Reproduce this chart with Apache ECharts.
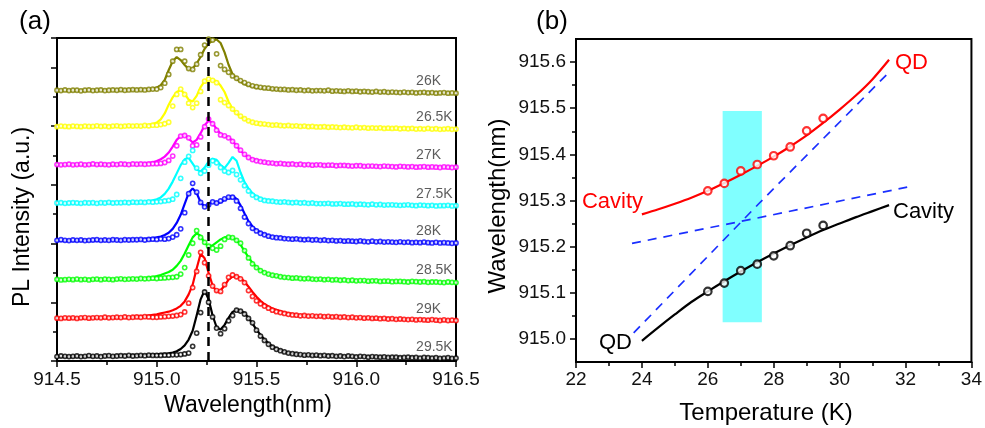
<!DOCTYPE html>
<html><head><meta charset="utf-8">
<script src="https://cdn.jsdelivr.net/npm/echarts@6/dist/echarts.min.js"></script>
<style>html,body{margin:0;padding:0;background:#fff}#c{width:985px;height:428px}</style>
</head><body><div id="c"></div>
<script>
// ---------- Panel (a): PL spectra ----------
const waveGrid = [
914.5,914.52,914.54,914.56,914.58,914.6,914.62,914.64,914.66,914.68,
914.7,914.72,914.74,914.76,914.78,914.8,914.82,914.84,914.86,914.88,
914.9,914.92,914.94,914.96,914.98,915,915.02,915.04,915.06,915.08,
915.1,915.12,915.14,915.16,915.18,915.2,915.22,915.24,915.26,915.28,
915.3,915.32,915.34,915.36,915.38,915.4,915.42,915.44,915.46,915.48,
915.5,915.52,915.54,915.56,915.58,915.6,915.62,915.64,915.66,915.68,
915.7,915.72,915.74,915.76,915.78,915.8,915.82,915.84,915.86,915.88,
915.9,915.92,915.94,915.96,915.98,916,916.02,916.04,916.06,916.08,
916.1,916.12,916.14,916.16,916.18,916.2,916.22,916.24,916.26,916.28,
916.3,916.32,916.34,916.36,916.38,916.4,916.42,916.44,916.46,916.48,
916.5];
const tempLabels = ['26K','26.5K','27K','27.5K','28K','28.5K','29K','29.5K'];
const traceOffsets = [9.21,7.98,6.68,5.37,4.10,2.76,1.45,0.15];
const markerWavelength = 915.26;

const fit26K = [
0,0,0,0,0,0,0,0,0.01,0.01,
0.01,0.01,0.01,0.01,0.01,0.01,0.01,0.02,0.02,0.02,
0.02,0.02,0.03,0.05,0.07,0.10,0.18,0.36,0.70,1.00,
1.14,1.04,0.87,0.73,0.75,0.92,1.15,1.42,1.60,1.70,
1.74,1.62,1.30,0.88,0.56,0.40,0.30,0.22,0.17,0.13,
0.10,0.08,0.07,0.06,0.05,0.04,0.03,0.03,0.02,0.02,
0.01,0.01,0.01,0.00,0.00,0.00,-0.01,-0.01,-0.01,-0.02,
-0.02,-0.02,-0.02,-0.03,-0.03,-0.03,-0.03,-0.04,-0.04,-0.04,
-0.04,-0.05,-0.05,-0.05,-0.05,-0.05,-0.06,-0.06,-0.06,-0.06,
-0.06,-0.07,-0.07,-0.07,-0.07,-0.07,-0.08,-0.08,-0.08,-0.08,
-0.08];
const circ26K = [
0.01,0.00,0.02,0.00,0.01,0.01,-0.01,0.01,0.02,0.00,
0.01,0.02,0.00,0.01,0.02,0.01,0.03,0.01,0.02,0.03,
0.02,0.03,0.02,0.04,0.05,0.05,0.10,0.25,0.55,1.00,
1.40,1.40,1.00,0.75,0.72,0.90,1.22,1.55,1.75,1.72,
1.25,0.85,0.72,0.62,0.50,0.42,0.34,0.27,0.21,0.16,
0.13,0.11,0.09,0.08,0.06,0.05,0.04,0.04,0.02,0.03,
0.01,0.02,0.00,0.01,-0.01,0.00,0.00,-0.01,0.01,-0.02,
-0.01,-0.02,-0.03,-0.01,-0.03,-0.02,-0.04,-0.03,-0.04,-0.05,
-0.03,-0.05,-0.04,-0.06,-0.05,-0.06,-0.07,-0.05,-0.07,-0.06,
-0.08,-0.07,-0.06,-0.08,-0.07,-0.09,-0.08,-0.07,-0.09,-0.08,
-0.09];
const fit26_5K = [
0,0,0,0,0,0,0,0.01,0.01,0.01,
0.01,0.01,0.01,0.01,0.01,0.02,0.02,0.02,0.02,0.02,
0.02,0.03,0.04,0.06,0.09,0.14,0.25,0.45,0.75,1.00,
1.18,1.25,1.12,0.92,0.86,1.05,1.35,1.55,1.60,1.60,
1.55,1.40,1.18,0.85,0.60,0.45,0.34,0.26,0.20,0.15,
0.12,0.10,0.08,0.07,0.06,0.05,0.04,0.04,0.03,0.03,
0.02,0.02,0.01,0.01,0.00,0.00,-0.01,-0.01,-0.01,-0.02,
-0.02,-0.02,-0.02,-0.03,-0.03,-0.03,-0.03,-0.04,-0.04,-0.04,
-0.04,-0.05,-0.05,-0.05,-0.05,-0.05,-0.06,-0.06,-0.06,-0.06,
-0.06,-0.07,-0.07,-0.07,-0.07,-0.07,-0.08,-0.08,-0.08,-0.08,
-0.08];
const circ26_5K = [
0.00,0.02,0.01,0.00,0.02,0.01,0.00,0.02,0.01,0.01,
0.03,0.01,0.02,0.00,0.02,0.03,0.01,0.02,0.03,0.02,
0.03,0.02,0.04,0.03,0.05,0.05,0.07,0.10,0.15,0.70,
1.10,1.28,1.10,0.80,0.65,0.80,1.20,1.55,1.62,1.58,
1.50,0.92,0.82,0.72,0.60,0.48,0.36,0.27,0.20,0.15,
0.12,0.10,0.09,0.07,0.05,0.06,0.04,0.03,0.04,0.02,
0.03,0.01,0.02,0.00,0.01,-0.01,-0.01,0.00,-0.02,-0.01,
-0.02,-0.03,-0.02,-0.03,-0.04,-0.02,-0.04,-0.03,-0.05,-0.04,
-0.05,-0.04,-0.06,-0.05,-0.06,-0.05,-0.07,-0.06,-0.07,-0.06,
-0.08,-0.07,-0.08,-0.06,-0.08,-0.07,-0.09,-0.08,-0.07,-0.09,
-0.08];
const fit27K = [
0,0,0,0,0,0,0,0,0.01,0.01,
0.01,0.01,0.01,0.01,0.01,0.01,0.02,0.02,0.02,0.02,
0.02,0.03,0.04,0.06,0.09,0.13,0.19,0.28,0.42,0.62,
0.85,0.98,1.02,0.90,0.76,0.85,1.08,1.35,1.50,1.42,
1.22,1.06,0.98,0.94,0.82,0.64,0.48,0.35,0.26,0.20,
0.16,0.12,0.09,0.07,0.06,0.05,0.04,0.04,0.03,0.03,
0.02,0.02,0.01,0.01,0.00,0.00,-0.01,-0.01,-0.01,-0.02,
-0.02,-0.02,-0.02,-0.03,-0.03,-0.03,-0.03,-0.04,-0.04,-0.04,
-0.04,-0.05,-0.05,-0.05,-0.05,-0.05,-0.06,-0.06,-0.06,-0.06,
-0.06,-0.07,-0.07,-0.07,-0.07,-0.07,-0.08,-0.08,-0.08,-0.08,
-0.08];
const circ27K = [
0.01,0.00,0.01,0.02,0.00,0.01,0.02,0.00,0.01,0.03,
0.01,0.02,0.01,0.00,0.02,0.01,0.03,0.02,0.01,0.03,
0.02,0.03,0.02,0.03,0.04,0.04,0.05,0.08,0.15,0.30,
0.65,0.98,1.00,0.92,0.65,0.68,0.95,1.30,1.56,1.40,
1.18,1.02,0.99,0.92,0.80,0.65,0.50,0.36,0.25,0.18,
0.14,0.11,0.09,0.07,0.06,0.04,0.05,0.03,0.02,0.03,
0.01,0.02,0.00,0.01,-0.01,0.00,0.00,-0.02,-0.01,-0.01,
-0.03,-0.02,-0.02,-0.03,-0.04,-0.03,-0.03,-0.05,-0.04,-0.04,
-0.05,-0.06,-0.04,-0.05,-0.06,-0.07,-0.05,-0.06,-0.07,-0.06,
-0.08,-0.07,-0.06,-0.08,-0.07,-0.08,-0.09,-0.07,-0.08,-0.09,
-0.08];
const fit27_5K = [
0,0,0,0,0,0,0,0.01,0.01,0.01,
0.01,0.01,0.01,0.02,0.02,0.02,0.02,0.02,0.03,0.03,
0.03,0.04,0.05,0.07,0.10,0.14,0.20,0.32,0.50,0.74,
1.02,1.30,1.50,1.55,1.35,1.15,1.08,1.22,1.42,1.52,
1.48,1.30,1.20,1.38,1.58,1.45,1.05,0.72,0.50,0.34,
0.24,0.17,0.13,0.10,0.08,0.06,0.05,0.04,0.04,0.03,
0.03,0.02,0.02,0.01,0.01,0.00,-0.01,-0.01,-0.01,-0.02,
-0.02,-0.02,-0.02,-0.03,-0.03,-0.03,-0.03,-0.04,-0.04,-0.04,
-0.04,-0.05,-0.05,-0.05,-0.05,-0.05,-0.06,-0.06,-0.06,-0.06,
-0.06,-0.07,-0.07,-0.07,-0.07,-0.07,-0.08,-0.08,-0.08,-0.08,
-0.08];
const circ27_5K = [
0.01,0.02,0.00,0.01,0.02,0.01,0.00,0.02,0.01,0.02,
0.00,0.02,0.01,0.03,0.01,0.02,0.02,0.03,0.02,0.04,
0.03,0.04,0.03,0.05,0.04,0.05,0.06,0.08,0.10,0.14,
0.30,0.85,1.40,1.60,1.80,1.20,1.02,1.10,1.30,1.45,
1.38,1.22,1.10,1.05,1.12,0.98,0.80,0.60,0.42,0.28,
0.20,0.14,0.10,0.08,0.07,0.05,0.04,0.05,0.03,0.02,
0.03,0.01,0.02,0.00,0.01,-0.01,-0.01,-0.01,0.00,-0.02,
-0.02,-0.01,-0.03,-0.03,-0.02,-0.04,-0.03,-0.04,-0.05,-0.03,
-0.05,-0.04,-0.06,-0.05,-0.05,-0.06,-0.07,-0.06,-0.05,-0.07,
-0.08,-0.06,-0.07,-0.08,-0.07,-0.09,-0.08,-0.08,-0.07,-0.09,
-0.08];
const fit28K = [
0,0,0,0,0,0,0.01,0.01,0.01,0.01,
0.01,0.01,0.02,0.02,0.02,0.02,0.02,0.03,0.03,0.03,
0.03,0.04,0.05,0.07,0.09,0.11,0.14,0.19,0.27,0.40,
0.60,0.88,1.25,1.62,1.78,1.62,1.30,1.16,1.25,1.33,
1.28,1.30,1.40,1.48,1.52,1.42,1.20,0.92,0.66,0.48,
0.36,0.28,0.22,0.17,0.14,0.12,0.10,0.09,0.08,0.07,
0.06,0.05,0.04,0.04,0.03,0.03,0.02,0.02,0.01,0.01,
0.00,0.00,-0.01,-0.01,-0.02,-0.02,-0.02,-0.03,-0.03,-0.03,
-0.04,-0.04,-0.04,-0.05,-0.05,-0.05,-0.05,-0.06,-0.06,-0.06,
-0.06,-0.07,-0.07,-0.07,-0.07,-0.07,-0.08,-0.08,-0.08,-0.08,
-0.08];
const circ28K = [
0.01,0.03,0.01,0.00,0.02,0.01,0.02,0.00,0.01,0.02,
0.03,0.01,0.02,0.01,0.03,0.02,0.01,0.03,0.02,0.03,
0.03,0.04,0.02,0.04,0.05,0.04,0.06,0.05,0.07,0.12,
0.20,0.40,0.95,1.60,1.95,1.65,1.30,1.15,1.22,1.32,
1.28,1.35,1.42,1.48,1.48,1.35,1.10,0.80,0.58,0.42,
0.33,0.25,0.20,0.15,0.12,0.10,0.09,0.07,0.06,0.05,
0.06,0.04,0.03,0.04,0.02,0.03,0.01,0.02,0.00,0.01,
-0.01,0.00,-0.02,-0.01,-0.02,-0.03,-0.01,-0.03,-0.04,-0.02,
-0.04,-0.03,-0.05,-0.04,-0.05,-0.06,-0.04,-0.06,-0.05,-0.07,
-0.06,-0.07,-0.05,-0.07,-0.08,-0.06,-0.08,-0.07,-0.08,-0.09,
-0.08];
const fit28_5K = [
0,0,0,0,0,0.01,0.01,0.01,0.01,0.01,
0.02,0.02,0.02,0.02,0.02,0.03,0.03,0.03,0.03,0.04,
0.04,0.05,0.06,0.08,0.10,0.13,0.17,0.22,0.27,0.35,
0.48,0.65,0.90,1.18,1.45,1.59,1.50,1.26,1.14,1.18,
1.28,1.38,1.45,1.47,1.44,1.35,1.20,0.98,0.77,0.58,
0.44,0.34,0.26,0.20,0.16,0.13,0.11,0.09,0.08,0.07,
0.06,0.05,0.04,0.04,0.03,0.03,0.02,0.02,0.01,0.01,
0.00,0.00,-0.01,-0.01,-0.02,-0.02,-0.02,-0.03,-0.03,-0.03,
-0.04,-0.04,-0.04,-0.05,-0.05,-0.05,-0.05,-0.06,-0.06,-0.06,
-0.06,-0.07,-0.07,-0.07,-0.07,-0.07,-0.08,-0.08,-0.08,-0.08,
-0.08];
const circ28_5K = [
0.02,0.00,0.01,0.02,0.01,0.03,0.01,0.02,0.00,0.02,
0.03,0.01,0.03,0.02,0.01,0.03,0.04,0.02,0.03,0.04,
0.03,0.05,0.04,0.05,0.06,0.05,0.06,0.07,0.08,0.09,
0.11,0.20,0.42,0.85,1.25,1.68,1.45,1.28,1.15,1.08,
1.02,1.15,1.38,1.46,1.44,1.35,1.25,1.00,0.75,0.55,
0.42,0.32,0.25,0.20,0.16,0.14,0.11,0.09,0.08,0.06,
0.07,0.05,0.04,0.05,0.03,0.02,0.03,0.01,0.02,0.00,
0.01,-0.01,0.00,-0.02,-0.01,-0.03,-0.02,-0.02,-0.04,-0.03,
-0.03,-0.05,-0.04,-0.04,-0.06,-0.05,-0.05,-0.06,-0.07,-0.05,
-0.06,-0.07,-0.06,-0.08,-0.07,-0.07,-0.08,-0.09,-0.07,-0.08,
-0.09];
const fit29K = [
0,0,0,0.01,0.01,0.01,0.01,0.01,0.02,0.02,
0.02,0.02,0.03,0.03,0.03,0.03,0.04,0.04,0.04,0.05,
0.06,0.07,0.08,0.10,0.12,0.14,0.17,0.20,0.23,0.28,
0.34,0.43,0.58,0.82,1.15,1.70,2.20,2.05,1.55,1.12,
0.92,0.95,1.12,1.32,1.42,1.44,1.38,1.25,1.08,0.90,
0.74,0.60,0.49,0.41,0.34,0.29,0.25,0.21,0.18,0.15,
0.13,0.12,0.11,0.10,0.09,0.08,0.07,0.07,0.06,0.06,
0.05,0.05,0.04,0.04,0.03,0.03,0.02,0.02,0.01,0.01,
0.00,0.00,-0.01,-0.01,-0.02,-0.02,-0.03,-0.03,-0.03,-0.04,
-0.04,-0.04,-0.05,-0.05,-0.05,-0.06,-0.06,-0.06,-0.07,-0.07,
-0.07];
const circ29K = [
0.01,0.00,0.02,0.01,0.02,0.00,0.02,0.03,0.01,0.02,
0.03,0.02,0.04,0.02,0.03,0.04,0.03,0.05,0.03,0.04,
0.05,0.04,0.06,0.05,0.04,0.04,0.05,0.06,0.07,0.08,
0.10,0.13,0.22,0.52,1.05,1.60,2.25,1.90,1.45,1.10,
0.95,0.92,1.15,1.40,1.48,1.42,1.35,1.22,0.95,0.75,
0.60,0.50,0.42,0.35,0.28,0.23,0.20,0.17,0.14,0.12,
0.11,0.09,0.10,0.08,0.09,0.07,0.08,0.06,0.07,0.05,
0.06,0.04,0.05,0.03,0.04,0.02,0.03,0.01,0.02,0.00,
0.01,-0.01,0.00,-0.02,-0.01,-0.03,-0.02,-0.03,-0.04,-0.03,
-0.05,-0.04,-0.05,-0.06,-0.04,-0.06,-0.07,-0.05,-0.07,-0.06,
-0.07];
const fit29_5K = [
0,0,0,0,0.01,0.01,0.01,0.01,0.01,0.01,
0.02,0.02,0.02,0.02,0.02,0.03,0.03,0.03,0.03,0.04,
0.04,0.04,0.05,0.06,0.07,0.08,0.09,0.10,0.11,0.14,
0.18,0.26,0.38,0.58,0.88,1.40,1.95,2.25,1.95,1.40,
1.00,0.92,1.08,1.32,1.52,1.59,1.56,1.48,1.32,1.12,
0.92,0.74,0.58,0.45,0.35,0.28,0.22,0.17,0.13,0.11,
0.09,0.07,0.06,0.05,0.05,0.04,0.04,0.03,0.03,0.03,
0.02,0.02,0.02,0.01,0.01,0.01,0.00,0.00,0.00,-0.01,
-0.01,-0.01,-0.01,-0.02,-0.02,-0.02,-0.02,-0.03,-0.03,-0.03,
-0.03,-0.04,-0.04,-0.04,-0.04,-0.05,-0.05,-0.05,-0.05,-0.05,
-0.05];
const circ29_5K = [
0.00,0.02,0.01,0.00,0.01,0.02,0.00,0.01,0.03,0.01,
0.02,0.00,0.02,0.03,0.01,0.02,0.03,0.02,0.04,0.02,
0.03,0.04,0.03,0.05,0.04,0.04,0.04,0.05,0.05,0.06,
0.06,0.07,0.09,0.12,0.35,0.80,1.50,2.20,1.85,1.35,
0.97,0.78,0.95,1.22,1.40,1.58,1.55,1.45,1.30,1.15,
0.90,0.70,0.55,0.42,0.32,0.25,0.20,0.16,0.12,0.10,
0.08,0.07,0.05,0.06,0.04,0.05,0.03,0.04,0.02,0.03,
0.01,0.02,0.00,0.02,0.01,-0.01,0.01,0.00,-0.02,0.00,
-0.01,-0.02,-0.01,-0.03,-0.02,-0.02,-0.04,-0.03,-0.02,-0.04,
-0.03,-0.05,-0.03,-0.04,-0.05,-0.04,-0.06,-0.05,-0.04,-0.06,
-0.05];

// ---------- Panel (b): peak positions vs temperature ----------
const measTemps = [26, 26.5, 27, 27.5, 28, 28.5, 29, 29.5];
const upperMeas = [915.321, 915.337, 915.364, 915.378, 915.397, 915.416, 915.451, 915.478];
const lowerMeas = [915.103, 915.121, 915.148, 915.162, 915.180, 915.202, 915.229, 915.246];
const fitTemps = [24, 24.5, 25, 25.5, 26, 26.5, 27, 27.5, 28, 28.5, 29, 29.5, 30, 30.5, 31, 31.5];
const upperFit = [915.270, 915.281, 915.293, 915.306, 915.321, 915.338, 915.356, 915.375, 915.395, 915.417, 915.441, 915.468, 915.497, 915.528, 915.563, 915.605];
const lowerFit = [914.996, 915.025, 915.053, 915.080, 915.103, 915.125, 915.146, 915.166, 915.185, 915.203, 915.220, 915.236, 915.250, 915.264, 915.277, 915.290];
const qdBareTemps = [23.75, 27.56, 31.5];
const qdBare = [915.013, 915.294, 915.578];
const cavBareTemps = [23.7, 27.5, 32.05];
const cavBare = [915.207, 915.262, 915.329];
const crossingBand = {tMin: 26.45, tMax: 27.64, wMin: 915.036, wMax: 915.494};
const yTicksB = [915.0, 915.1, 915.2, 915.3, 915.4, 915.5, 915.6];
const yMinorTicksB = [915.05, 915.15, 915.25, 915.35, 915.45, 915.55];

// ---------- styling ----------
const FONT = 'Arial, "Liberation Sans", sans-serif';
const traceColors = ['#808000','#ffff00','#ff00ff','#00ffff','#0000ff','#00ff00','#ff0000','#000000'];
const fits = [fit26K, fit26_5K, fit27K, fit27_5K, fit28K, fit28_5K, fit29K, fit29_5K];
const circs = [circ26K, circ26_5K, circ27K, circ27_5K, circ28K, circ28_5K, circ29K, circ29_5K];

const series = [];
for (let k = 0; k < fits.length; k++) {
  const col = traceColors[k];
  series.push({
    type: 'line', xAxisIndex: 0, yAxisIndex: 0, silent: true,
    data: waveGrid.map((x, i) => [x, fits[k][i] + traceOffsets[k]]),
    showSymbol: false, symbol: 'none', lineStyle: {color: col, width: 2.2}, z: 2
  });
  series.push({
    type: 'scatter', xAxisIndex: 0, yAxisIndex: 0, silent: true,
    data: waveGrid.map((x, i) => [x, circs[k][i] + traceOffsets[k]]),
    symbol: 'circle', symbolSize: 4.2,
    itemStyle: {color: '#ffffff', borderColor: col, borderWidth: 1.6}, z: 3
  });
}
// temperature labels
series.push({
  type: 'scatter', xAxisIndex: 0, yAxisIndex: 0, silent: true, symbolSize: 0,
  data: tempLabels.map((t, k) => [916.30, traceOffsets[k] + 0.32, t]),
  label: {show: true, position: 'right', distance: 0, formatter: p => p.value[2],
          fontSize: 14, color: '#333', fontFamily: FONT},
  z: 5
});
// vertical dashed marker
series.push({
  type: 'line', xAxisIndex: 0, yAxisIndex: 0, data: [], silent: true,
  markLine: {silent: true, symbol: 'none', label: {show: false},
    lineStyle: {color: '#000', width: 2.5, type: [9, 6]},
    data: [{xAxis: markerWavelength}]},
  z: 6
});

// panel (b)
series.push({
  type: 'line', xAxisIndex: 1, yAxisIndex: 1, data: [], silent: true, z: 1,
  markArea: {silent: true, itemStyle: {color: '#80ffff', opacity: 1},
    data: [[{coord: [crossingBand.tMin, crossingBand.wMin]}, {coord: [crossingBand.tMax, crossingBand.wMax]}]]}
});
series.push({
  type: 'line', xAxisIndex: 1, yAxisIndex: 1, silent: true, showSymbol: false, symbol: 'none', z: 3,
  data: qdBareTemps.map((t, i) => [t, qdBare[i]]),
  lineStyle: {color: '#1a2fff', width: 1.7, type: [9, 7]}
});
series.push({
  type: 'line', xAxisIndex: 1, yAxisIndex: 1, silent: true, showSymbol: false, symbol: 'none', z: 3,
  data: cavBareTemps.map((t, i) => [t, cavBare[i]]),
  lineStyle: {color: '#1a2fff', width: 1.7, type: [9, 7]}
});
series.push({
  type: 'line', xAxisIndex: 1, yAxisIndex: 1, silent: true, showSymbol: false, symbol: 'none', smooth: 0.3, z: 4,
  data: fitTemps.map((t, i) => [t, upperFit[i]]),
  lineStyle: {color: '#ff0000', width: 2.2}
});
series.push({
  type: 'line', xAxisIndex: 1, yAxisIndex: 1, silent: true, showSymbol: false, symbol: 'none', smooth: 0.3, z: 4,
  data: fitTemps.map((t, i) => [t, lowerFit[i]]),
  lineStyle: {color: '#000000', width: 2.2}
});
series.push({
  type: 'scatter', xAxisIndex: 1, yAxisIndex: 1, silent: true, z: 5,
  data: measTemps.map((t, i) => [t, upperMeas[i]]),
  symbol: 'circle', symbolSize: 7.5, itemStyle: {color: '#ffffff', borderColor: '#ff0000', borderWidth: 2.2}
});
series.push({
  type: 'scatter', xAxisIndex: 1, yAxisIndex: 1, silent: true, z: 5,
  data: measTemps.map((t, i) => [t, lowerMeas[i]]),
  symbol: 'circle', symbolSize: 7.5, itemStyle: {color: '#ffffff', borderColor: '#000000', borderWidth: 2.2}
});

function txt(t, x, y, size, color, align, rot) {
  return {type: 'text', x: x, y: y, rotation: rot || 0, silent: true, z: 100,
    style: {text: t, font: size + 'px ' + FONT, fill: color,
      align: align, verticalAlign: 'middle', textAlign: align, textVerticalAlign: 'middle'}};
}

const axisLine = {show: true, lineStyle: {color: '#000', width: 2}};
const tickStyle = {color: '#000', width: 1.5};
const labelStyle = {fontSize: 19, color: '#111', fontFamily: FONT};

const option = {
  animation: false,
  backgroundColor: '#fff',
  grid: [
    {left: 57, top: 38, right: 529, bottom: 67, show: true, borderColor: '#000', borderWidth: 2, backgroundColor: 'transparent'},
    {left: 576, top: 39, right: 12, bottom: 66, show: true, borderColor: '#000', borderWidth: 2, backgroundColor: 'transparent'}
  ],
  xAxis: [
    {gridIndex: 0, type: 'value', min: 914.5, max: 916.5, interval: 0.5,
     axisLine: axisLine, axisTick: {show: true, length: 6, lineStyle: tickStyle},
     minorTick: {show: true, splitNumber: 2, length: 4, lineStyle: tickStyle},
     axisLabel: Object.assign({margin: 9, formatter: v => v.toFixed(1)}, labelStyle),
     splitLine: {show: false}},
    {gridIndex: 1, type: 'value', min: 22, max: 34, interval: 2,
     axisLine: axisLine, axisTick: {show: true, length: 6, lineStyle: tickStyle},
     minorTick: {show: true, splitNumber: 2, length: 4, lineStyle: tickStyle},
     axisLabel: Object.assign({margin: 8}, labelStyle),
     splitLine: {show: false}}
  ],
  yAxis: [
    {gridIndex: 0, type: 'value', min: 0, max: 11, interval: 2,
     axisLine: axisLine, axisTick: {show: true, length: 6, lineStyle: tickStyle},
     minorTick: {show: true, splitNumber: 2, length: 4, lineStyle: tickStyle},
     axisLabel: {show: false}, splitLine: {show: false}},
    {gridIndex: 1, type: 'value', min: 914.95, max: 915.65,
     axisLine: axisLine,
     axisTick: {show: true, length: 6, lineStyle: tickStyle, customValues: yTicksB},
     axisLabel: Object.assign({margin: 10, formatter: v => Number(v).toFixed(1), customValues: yTicksB}, labelStyle),
     splitLine: {show: false}},
    {gridIndex: 1, type: 'value', min: 914.95, max: 915.65, position: 'left',
     axisLine: {show: false},
     axisTick: {show: true, length: 4, lineStyle: tickStyle, customValues: yMinorTicksB},
     axisLabel: {show: false}, splitLine: {show: false}}
  ],
  graphic: [
    txt('(a)', 35, 22, 26, '#000', 'center'),
    txt('(b)', 552, 22, 26, '#000', 'center'),
    txt('PL Intensity (a.u.)', 23, 217, 23, '#000', 'center', Math.PI / 2),
    txt('Wavelength(nm)', 248, 406, 23, '#000', 'center'),
    txt('Temperature (K)', 766, 413, 24, '#000', 'center'),
    txt('Wavelength(nm)', 498, 206, 24, '#000', 'center', Math.PI / 2),
    txt('QD', 895, 63, 22, '#ff0000', 'left'),
    txt('Cavity', 643, 202, 22, '#ff0000', 'right'),
    txt('Cavity', 893, 212, 22, '#000', 'left'),
    txt('QD', 632, 343, 22, '#000', 'right')
  ],
  series: series
};
const chart = echarts.init(document.getElementById('c'), null, {renderer: 'canvas'});
chart.setOption(option);
</script></body></html>
